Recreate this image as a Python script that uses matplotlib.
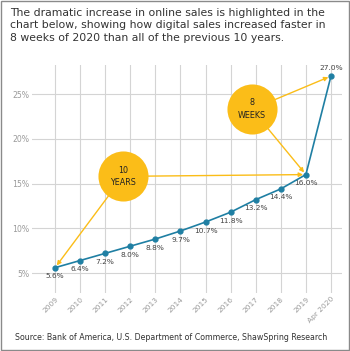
import matplotlib.pyplot as plt
from matplotlib.patches import Rectangle

# ------------------------------------
# DATA
# ------------------------------------
years = ["2009", "2010", "2011", "2012", "2013", "2014", "2015",
         "2016", "2017", "2018", "2019", "Apr 2020"]
share = [5.6, 6.4, 7.2, 8.0, 8.8, 9.7, 10.7, 11.8, 13.2, 14.4, 16.0, 27.0]
yticks = [5, 10, 15, 20, 25]

title = ("The dramatic increase in online sales is highlighted in the\n"
         "chart below, showing how digital sales increased faster in\n"
         "8 weeks of 2020 than all of the previous 10 years.")
source = "Source: Bank of America, U.S. Department of Commerce, ShawSpring Research"

BLUE = "#1f7fa3"
YELLOW = "#fbbd18"
GRID = "#d4d4d4"
DARK = "#444444"
LIGHT = "#9a9a9a"

# ------------------------------------
# FIGURE
# ------------------------------------
fig = plt.figure(figsize=(3.5, 3.51), dpi=100)
fig.patches.append(Rectangle((0.004, 0.004), 0.992, 0.992, transform=fig.transFigure,
                             fill=False, edgecolor="#8a8a8a", linewidth=1.0))

ax = fig.add_axes([32 / 350, 1 - 293 / 351, 310 / 350, 228 / 351])
x = list(range(len(years)))

ax.set_xlim(-0.92, 11.44)
ax.set_ylim(2.77, 28.24)
ax.set_xticks(x)
ax.set_xticklabels(years, rotation=45, ha="right", rotation_mode="anchor",
                   fontsize=5.4, color=LIGHT)
ax.set_yticks(yticks)
ax.set_yticklabels([f"{v}%" for v in yticks], fontsize=5.6, color=LIGHT)
ax.tick_params(length=0, pad=2)
for s in ax.spines.values():
    s.set_visible(False)
ax.grid(True, color=GRID, linewidth=0.8)
ax.set_axisbelow(True)

# main line
ax.plot(x, share, color=BLUE, linewidth=1.2, marker="o", markersize=3.5, zorder=4)

# value labels
for xi, v in zip(x, share):
    if xi == len(x) - 1:
        ax.annotate(f"{v:.1f}%", (xi, v), xytext=(0, 4), textcoords="offset points",
                    ha="center", va="bottom", fontsize=5.3, color=DARK)
    else:
        ax.annotate(f"{v:.1f}%", (xi, v), xytext=(0, -4), textcoords="offset points",
                    ha="center", va="top", fontsize=5.3, color=DARK)

# callout bubbles
bubbles = [((2.71, 15.8), "10\nYEARS", [0, 10]),
           ((7.85, 23.3), "8\nWEEKS", [10, 11])]
for (bx, by), label, targets in bubbles:
    for t in targets:
        ax.annotate("", xy=(t, share[t]), xytext=(bx, by),
                    arrowprops=dict(arrowstyle="-|>", color=YELLOW, lw=1.0,
                                    mutation_scale=6, shrinkA=0, shrinkB=2),
                    zorder=3)
    ax.scatter([bx], [by], s=1300, color=YELLOW, zorder=5, linewidths=0)
    ax.text(bx, by, label, ha="center", va="center", fontsize=5.8,
            color="#222222", zorder=6, linespacing=1.5)

# title and source
fig.text(10 / 350, 1 - 8 / 351, title, ha="left", va="top", fontsize=7.8,
         color="#333333", linespacing=1.3)
fig.text(15 / 350, 1 - 338 / 351, source, ha="left", va="center", fontsize=5.7,
         color="#333333")

fig.savefig("out.png", dpi=100)
